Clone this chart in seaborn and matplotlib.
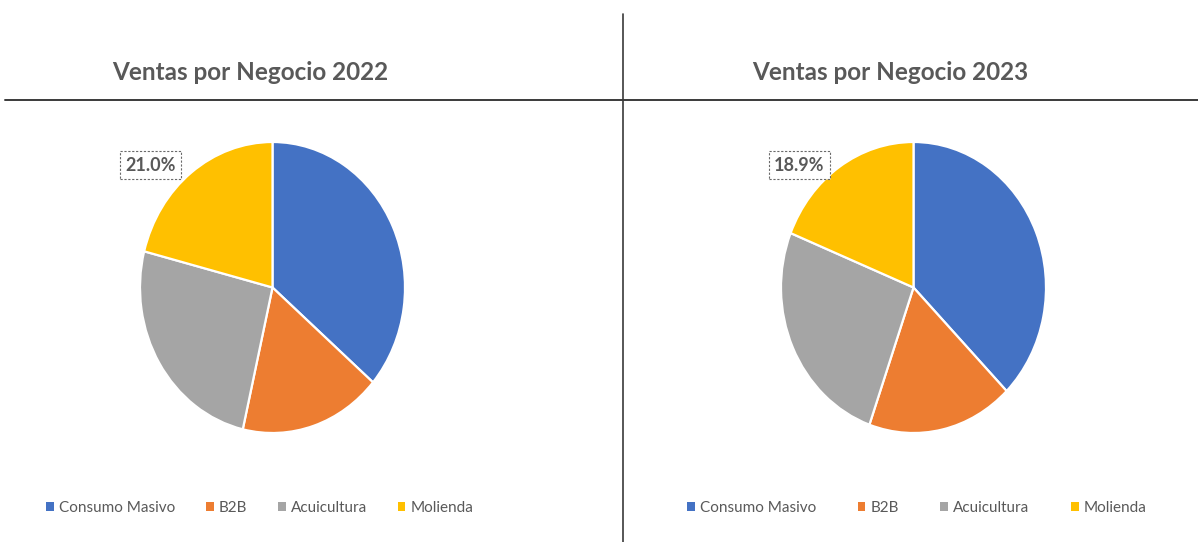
import matplotlib
matplotlib.use("Agg")
import matplotlib.pyplot as plt
from matplotlib.lines import Line2D
from matplotlib.patches import Patch
import seaborn as sns

# Sales share by business line (percent)
segments = ["Consumo Masivo", "B2B", "Acuicultura", "Molienda"]
share_2022 = [36.3, 17.3, 25.4, 21.0]
share_2023 = [37.6, 17.8, 25.7, 18.9]
years = ["2022", "2023"]

sns.set_theme(style="white")
colors = ["#4472C4", "#ED7D31", "#A5A5A5", "#FFC000"]
text_gray = "#595959"
font = ["Lato", "DejaVu Sans"]

W, H = 1198, 542
fig = plt.figure(figsize=(W / 100, H / 100), dpi=100)
fig.patch.set_facecolor("white")


def fx(px):
    return px / W


def fy(py):
    return 1 - py / H


# Divider lines
fig.add_artist(Line2D([fx(5), fx(1198)], [fy(100), fy(100)], color="#3a3a3a", lw=1.4))
fig.add_artist(Line2D([fx(623), fx(623)], [fy(14), fy(542)], color="#3a3a3a", lw=1.2))

panels = [
    (share_2022, years[0], 140, 250, -0.92, 260, 2.0),
    (share_2023, years[1], 781, 890, -0.86, 917, 2.7),
]

for values, year, left_px, title_cx, label_x, legend_cx, col_space in panels:
    ax = fig.add_axes([fx(left_px), fy(433), 265 / W, 291 / H])
    ax.pie(values, colors=colors, startangle=90, counterclock=False,
           wedgeprops=dict(edgecolor="white", linewidth=1.6))
    ax.set_aspect("auto")
    ax.set_xlim(-1, 1)
    ax.set_ylim(-1, 1)
    ax.axis("off")

    # Data label for Molienda
    ax.text(label_x, 0.84, f"{values[3]:.1f}%", ha="center", va="center",
            fontsize=13, fontweight="bold", color=text_gray, family=font,
            bbox=dict(boxstyle="square,pad=0.3", fc="white", ec="#6a6a6a",
                      ls=(0, (2, 1.5)), lw=0.8))

    fig.text(fx(title_cx), fy(72), f"Ventas por Negocio {year}",
             ha="center", va="center", fontsize=17.5, fontweight="bold",
             color=text_gray, family=font)

    handles = [Patch(facecolor=c, edgecolor="none") for c in colors]
    fig.legend(handles, segments, loc="center",
               bbox_to_anchor=(fx(legend_cx), fy(508)),
               ncol=4, frameon=False, handlelength=0.5, handleheight=0.5,
               handletextpad=0.35, columnspacing=col_space,
               prop=dict(family=font, size=11), labelcolor=text_gray)

fig.savefig("out.png", dpi=100, facecolor="white")
